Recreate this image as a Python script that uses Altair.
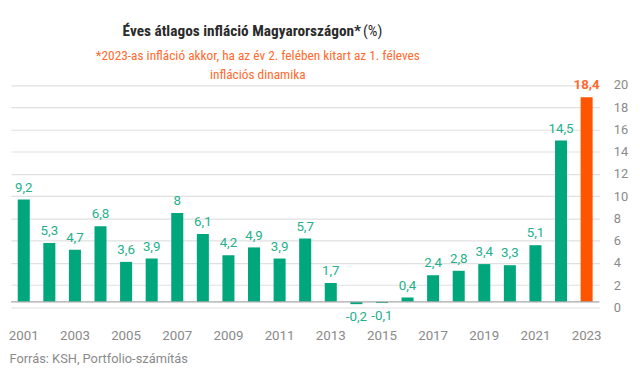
import altair as alt
import pandas as pd

years = list(range(2001, 2024))
values = [9.2, 5.3, 4.7, 6.8, 3.6, 3.9, 8.0, 6.1, 4.2, 4.9, 3.9, 5.7, 1.7,
          -0.2, -0.1, 0.4, 2.4, 2.8, 3.4, 3.3, 5.1, 14.5, 18.4]
x_tick_years = list(range(2001, 2024, 2))
y_ticks = list(range(0, 21, 2))

title_main = "Éves átlagos infláció Magyarországon*"
title_unit = "(%)"
subtitle_lines = ["*2023-as infláció akkor, ha az év 2. felében kitart az 1. féleves",
                  "inflációs dinamika"]
footer = "Forrás: KSH, Portfolio-számítás"

GREEN = "#00a67c"
GREEN_TXT = "#25b08b"
ORANGE = "#ff5500"
ORANGE_TXT = "#ff6a2e"
GRAY = "#8a8a8a"
COND = "Roboto Condensed, Liberation Sans Narrow, Roboto"

df = pd.DataFrame({"year": years, "value": values})
ticks_df = pd.DataFrame({"tick": y_ticks})
base_df = pd.DataFrame({"value": [0]})

x_enc = alt.X(
    "year:O",
    scale=alt.Scale(paddingInner=0.53, paddingOuter=0.265),
    axis=alt.Axis(
        values=x_tick_years, labelAngle=0, labelFont="Roboto", labelFontSize=13.5,
        labelColor=GRAY, labelPadding=21, domain=False, ticks=False, grid=False,
        title=footer, titleX=-2, titleY=52, titleAlign="left", titleAnchor="start",
        titleBaseline="middle", titleFont="Roboto", titleFontSize=13,
        titleFontWeight="normal", titleColor=GRAY,
    ),
)

y_bar = alt.Y(
    "value:Q",
    scale=alt.Scale(domain=[-0.5, 20], nice=False, zero=True),
    axis=alt.Axis(
        orient="left", labels=False, ticks=False, domain=False, grid=False,
        title=title_main, titleX=354, titleY=-49, titleAngle=0, titleAlign="right",
        titleBaseline="middle", titleFont=COND, titleFontSize=15.5,
        titleFontWeight="bold", titleColor="#2b2b2b",
    ),
)

grid_layer = alt.Chart(ticks_df).mark_point(opacity=0).encode(
    y=alt.Y(
        "tick:Q",
        scale=alt.Scale(domain=[0, 20.5], nice=False),
        axis=alt.Axis(
            orient="right", values=y_ticks, grid=True, gridColor="#e0e0e0",
            gridWidth=1.2, domain=False, ticks=False, labelPadding=14,
            labelFont="Roboto", labelFontSize=13, labelColor=GRAY,
            title=title_unit, titleX=-240, titleY=-49, titleAngle=0,
            titleAlign="left", titleBaseline="middle", titleFont=COND,
            titleFontSize=15.5, titleFontWeight="normal", titleColor="#2b2b2b",
        ),
    )
)

bars = alt.Chart(df).mark_bar().encode(
    x=x_enc,
    y=y_bar,
    color=alt.condition(alt.datum.year == 2023, alt.value(ORANGE), alt.value(GREEN)),
)

baseline = alt.Chart(base_df).mark_rule(color="#a8a8a8", strokeWidth=1.2).encode(y=y_bar)

lab = alt.Chart(df).transform_calculate(
    label="replace(replace(format(datum.value, '.1~f'), '.', ','), '\u2212', '-')"
)

text_pos = lab.transform_filter("datum.value >= 0 && datum.year < 2023").mark_text(
    baseline="alphabetic", dy=-8, font="Roboto", fontSize=13.5, color=GREEN_TXT
).encode(x=x_enc, y=y_bar, text="label:N")

text_neg = lab.transform_filter("datum.value < 0").mark_text(
    baseline="top", dy=6, font="Roboto", fontSize=13.5, color=GREEN_TXT
).encode(x=x_enc, y=y_bar, text="label:N")

text_last = lab.transform_filter("datum.year == 2023").mark_text(
    baseline="alphabetic", dy=-8, font="Roboto", fontSize=13.5, fontWeight="bold",
    color=ORANGE_TXT
).encode(x=x_enc, y=y_bar, text="label:N")

bar_group = alt.layer(bars, baseline, text_pos, text_neg, text_last)

chart = alt.layer(grid_layer, bar_group).resolve_scale(y="independent").properties(
    width=596,
    height=231,
    autosize=alt.AutoSizeParams(type="none"),
    padding={"left": 3, "top": 70, "right": 33, "bottom": 62},
    title=alt.TitleParams(
        text=subtitle_lines, anchor="middle", dx=-48, dy=62, offset=4,
        font=COND, fontSize=13.5, fontWeight="normal", color=ORANGE_TXT,
        lineHeight=19,
    ),
).configure_view(stroke=None)

chart.save("out.html", embed_options={"renderer": "svg", "actions": False})
